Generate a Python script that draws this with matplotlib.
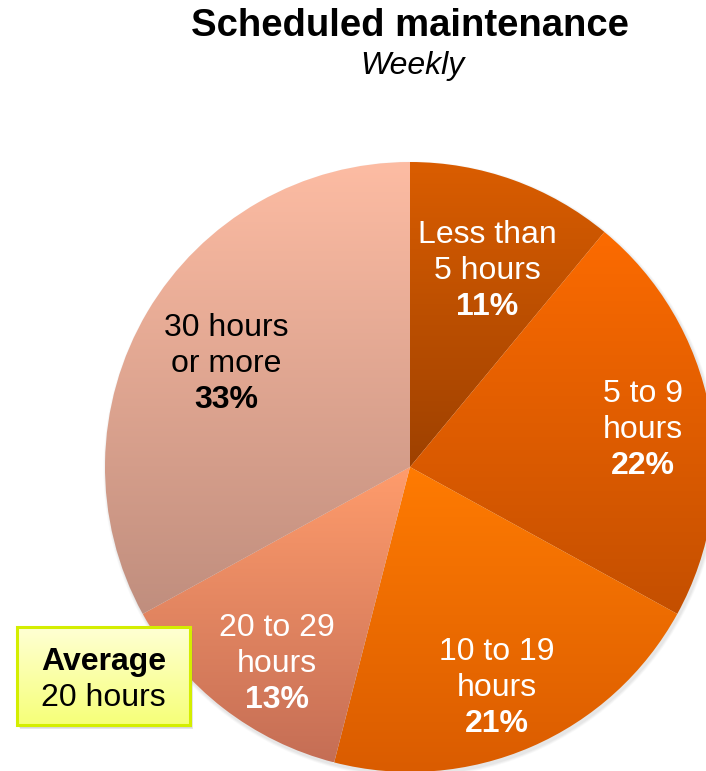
import numpy as np
import matplotlib
matplotlib.use("Agg")
import matplotlib.pyplot as plt
from matplotlib.colors import LinearSegmentedColormap
from matplotlib.patches import Rectangle, Circle

plt.rcParams['font.family'] = ['Liberation Sans', 'DejaVu Sans']

# ---- data ----
categories = ["Less than\n5 hours", "5 to 9\nhours", "10 to 19\nhours",
              "20 to 29\nhours", "30 hours\nor more"]
values = [11, 22, 21, 13, 33]
title = "Scheduled maintenance"
subtitle = "Weekly"
avg_title = "Average"
avg_value = "20 hours"

# ---- styles ----
top_colors = ["#DA5D00", "#FC6B00", "#FF7B02", "#FF9C6C", "#FDBCA3"]
bottom_colors = ["#9E4100", "#C44F00", "#DA5C00", "#C56E55", "#C08E7E"]
text_colors = ["white", "white", "white", "white", "black"]
label_pos = [(487, 271), (643, 430), (497, 688), (277, 664), (226, 364)]

W, H = 706, 771
fig = plt.figure(figsize=(W / 100, H / 100), dpi=100)
ax = fig.add_axes([0, 0, 1, 1])
ax.set_axis_off()

cx, cy, R = 410, H - 467, 305

# soft shadow
for i, a in enumerate([0.05, 0.07, 0.09]):
    ax.add_patch(Circle((cx + 1.5, cy - 2.5), R + 3 - i, facecolor="#888888",
                        edgecolor="none", alpha=a, zorder=0.5))

wedges, _ = ax.pie(values, startangle=90, counterclock=False, center=(cx, cy),
                   radius=R, wedgeprops=dict(edgecolor="none", linewidth=0))

grad = np.linspace(0, 1, 256).reshape(-1, 1)
for w, ct, cb in zip(wedges, top_colors, bottom_colors):
    w.set_facecolor("none")
    ext = w.get_path().get_extents()
    cmap = LinearSegmentedColormap.from_list("g", [cb, ct])
    im = ax.imshow(grad, cmap=cmap, origin="lower",
                   extent=[ext.x0, ext.x1, ext.y0, ext.y1], aspect="auto",
                   zorder=1, interpolation="bilinear")
    im.set_clip_path(w)

# labels
lh = 36
fs = 23
for cat, v, (lx, ly), tc in zip(categories, values, label_pos, text_colors):
    lines = cat.split("\n")
    yc = H - ly
    ax.text(lx, yc + lh, lines[0], ha="center", va="center", fontsize=fs,
            color=tc, zorder=5)
    ax.text(lx, yc, lines[1], ha="center", va="center", fontsize=fs,
            color=tc, zorder=5)
    ax.text(lx, yc - lh, f"{v}%", ha="center", va="center", fontsize=fs,
            color=tc, fontweight="bold", zorder=5)

# title
ax.text(410, H - 26, title, ha="center", va="center", fontsize=27.5,
        fontweight="bold", color="black")
ax.text(412, H - 66, subtitle, ha="center", va="center", fontsize=23,
        style="italic", color="black")

# average box
bx0, bx1, by0, by1 = 17, 190, H - 725, H - 627
for i, a in enumerate([0.12, 0.18]):
    ax.add_patch(Rectangle((bx0 + 2 + i, by0 - 3 - i), bx1 - bx0, by1 - by0,
                           facecolor="#777777", edgecolor="none", alpha=a, zorder=6))
box = Rectangle((bx0, by0), bx1 - bx0, by1 - by0, facecolor="none",
                edgecolor="#D4EE00", linewidth=2.2, zorder=8)
ax.add_patch(box)
bcmap = LinearSegmentedColormap.from_list("b", ["#F6FF78", "#FFFFD4"])
bim = ax.imshow(grad, cmap=bcmap, origin="lower", extent=[bx0, bx1, by0, by1],
                aspect="auto", zorder=7)
bim.set_clip_path(box)
ax.text((bx0 + bx1) / 2, H - 662, avg_title, ha="center", va="center",
        fontsize=fs, fontweight="bold", color="black", zorder=9)
ax.text((bx0 + bx1) / 2, H - 698, avg_value, ha="center", va="center",
        fontsize=fs, color="black", zorder=9)

ax.set_xlim(0, W)
ax.set_ylim(0, H)
ax.set_aspect("auto")
fig.savefig("out.png", dpi=100, facecolor="white")
